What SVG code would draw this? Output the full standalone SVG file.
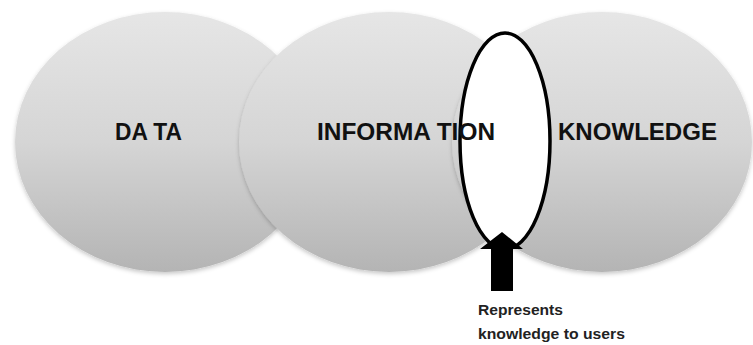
<svg xmlns="http://www.w3.org/2000/svg" width="753" height="345" viewBox="0 0 753 345">
  <defs>
    <linearGradient id="g" x1="0" y1="0" x2="0" y2="1">
      <stop offset="0" stop-color="#e6e6e6"/>
      <stop offset="0.5" stop-color="#d5d5d5"/>
      <stop offset="1" stop-color="#b4b4b4"/>
    </linearGradient>
    <filter id="sh" x="-10%" y="-10%" width="120%" height="125%">
      <feDropShadow dx="0" dy="2" stdDeviation="2" flood-color="#000" flood-opacity="0.22"/>
    </filter>
    <style>
      .c { fill: url(#g); filter: url(#sh); }
      .lbl { font-family: "Liberation Sans", Arial, sans-serif; font-weight: bold; font-size: 23px; fill: #111; }
      .note { font-family: "Liberation Sans", Arial, sans-serif; font-weight: bold; font-size: 15px; fill: #222; }
    </style>
  </defs>
  <rect width="753" height="345" fill="#ffffff"/>
  <g id="data">
    <ellipse class="c" cx="165" cy="142" rx="150" ry="130"/>
    <text class="lbl" x="115" y="139.5" textLength="67" lengthAdjust="spacingAndGlyphs">DA TA</text>
  </g>
  <g id="information">
    <ellipse class="c" cx="389" cy="142" rx="150" ry="130"/>
  </g>
  <g id="knowledge">
    <ellipse class="c" cx="602" cy="142" rx="150" ry="130"/>
    <text class="lbl" x="558" y="139.5" textLength="159" lengthAdjust="spacingAndGlyphs">KNOWLEDGE</text>
  </g>
  <g id="highlight">
    <ellipse cx="505" cy="141" rx="45" ry="108" fill="#ffffff" stroke="#000" stroke-width="3.5"/>
  </g>
  <g id="information-label">
    <text class="lbl" x="317" y="139.5" textLength="178" lengthAdjust="spacingAndGlyphs">INFORMA TION</text>
  </g>
  <g id="connectors">
    <polygon points="491,291 491,249 480,249 502,232 523,249 513,249 513,291" fill="#000"/>
  </g>
  <g id="note">
    <text class="note" x="478" y="315" textLength="85" lengthAdjust="spacingAndGlyphs">Represents</text>
    <text class="note" x="478" y="339" textLength="147" lengthAdjust="spacingAndGlyphs">knowledge to users</text>
  </g>
</svg>
